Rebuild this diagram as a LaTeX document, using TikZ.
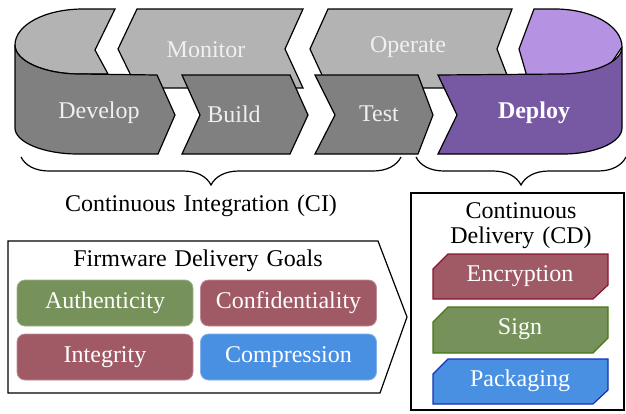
\documentclass[tikz,border=0pt]{standalone}
\usepackage{fontspec}
\setmainfont{Liberation Serif}
\usetikzlibrary{decorations.pathreplacing}
\definecolor{dgray}{RGB}{128,128,128}
\definecolor{lgray}{RGB}{179,179,179}
\definecolor{dpurple}{RGB}{118,88,163}
\definecolor{lpurple}{RGB}{181,146,226}
\definecolor{ggreen}{RGB}{118,146,90}
\definecolor{gred}{RGB}{160,90,102}
\definecolor{gblue}{RGB}{74,144,226}
\definecolor{bred}{RGB}{140,20,50}
\definecolor{bgreen}{RGB}{70,120,20}
\definecolor{bblue}{RGB}{20,50,180}
\definecolor{txtlight}{RGB}{240,240,240}
\newcommand{\myfont}{\fontsize{24}{27}\selectfont\spaceskip=8pt plus 1pt}
\tikzset{
  band/.style={draw=black, line width=1.2pt, line join=miter},
  lbl/.style={font=\myfont, text=txtlight, inner sep=0pt},
  blk/.style={font=\myfont, text=black, inner sep=0pt, align=center},
  goal/.style={font=\myfont, text=white, rounded corners=8pt, minimum width=176pt, minimum height=46pt, inner sep=0pt, line width=0.8pt},
  cditem/.style={line width=1.2pt, line join=miter},
  brc/.style={draw=black, line width=1.2pt, decorate, decoration={brace, amplitude=28pt}}
}
\begin{document}
\begin{tikzpicture}[x=1pt, y=-1pt]
\useasboundingbox (0,0) rectangle (626,413);
% top caps and back arrows
\fill[lgray, band] (15,45) .. controls (15,25) and (45,9) .. (83,9) -- (115,9) -- (95,50) -- (108,74) -- (80,74) .. controls (44,74) and (15,61) .. (15,45) -- cycle;
\fill[lgray, band] (137,9) -- (303,9) -- (285,49) -- (303,88) -- (137,88) -- (118,49) -- cycle;
\fill[lgray, band] (328,9) -- (512,9) -- (497,49) -- (512,88) -- (328,88) -- (310,49) -- cycle;
\fill[lpurple, band] (534,9) -- (555,9) .. controls (592,9) and (622,26) .. (622,47) -- (600,80) -- (528,80) -- (519,49) -- cycle;
\node[lbl] (monitor) at (206,50) {Monitor};
\node[lbl] (operate) at (408,47) {Operate};
% front arrows
\fill[dgray, band] (15,45) -- (15,128) .. controls (15,142) and (43,154) .. (78,154) -- (158,154) -- (175,115) -- (157,75) -- (80,74) .. controls (44,74) and (15,61) .. (15,45) -- cycle;
\fill[dgray, band] (182,75) -- (290,75) -- (308,115) -- (290,154) -- (182,154) -- (200,115) -- cycle;
\fill[dgray, band] (315,75) -- (418,75) -- (433,115) -- (418,154) -- (315,154) -- (335,115) -- cycle;
\fill[dpurple, band] (438,75) -- (560,74) .. controls (594,74) and (622,62) .. (622,47) -- (622,128) .. controls (622,142) and (596,154) .. (563,154) -- (438,154) -- (457,115) -- cycle;
\node[lbl] (develop) at (99,113) {Develop};
\node[lbl] (build) at (234,114) {Build};
\node[lbl] (test) at (379,114) {Test};
\node[lbl, text=white, font=\myfont\bfseries] (deploy) at (534,113) {Deploy};
% braces
\coordinate (ciR) at (401,157);
\coordinate (ciL) at (21,157);
\coordinate (cdR) at (626,157);
\coordinate (cdL) at (416,157);
\draw[brc] (ciR) -- (ciL);
\draw[brc] (cdR) -- (cdL);
\node[blk] (ci) at (201,206) {Continuous Integration (CI)};
% goals pentagon
\draw[line width=1.2pt] (8,241) -- (378,241) -- (407,317) -- (380,393) -- (8,393) -- cycle;
\node[blk] (goals) at (198,261) {Firmware Delivery Goals};
\node[goal, fill=ggreen, draw=ggreen!70!white] (auth) at (105,303) {Authenticity};
\node[goal, fill=gred, draw=gred!70!white] (conf) at (288.5,303) {Confidentiality};
\node[goal, fill=gred, draw=gred!70!white] (integ) at (105,357) {Integrity};
\node[goal, fill=gblue, draw=gblue!70!white] (comp) at (288.5,357) {Compression};
% CD box
\draw[line width=1.2pt] (411,193) rectangle (624,410);
\node[blk] (cd1) at (521,211) {Continuous};
\node[blk] (cd2) at (521,238) {Delivery (CD)};
\filldraw[cditem, fill=gred, draw=bred] (433,269) -- (448,254) -- (608,254) -- (608,285) -- (593,299) -- (433,299) -- cycle;
\filldraw[cditem, fill=ggreen, draw=bgreen] (433,322) -- (448,307) -- (608,307) -- (608,338) -- (593,353) -- (433,353) -- cycle;
\filldraw[cditem, fill=gblue, draw=bblue] (433,374) -- (448,359) -- (608,359) -- (608,390) -- (593,404) -- (433,404) -- cycle;
\node[lbl, text=white] (enc) at (520,276) {Encryption};
\node[lbl, text=white] (sign) at (520,329) {Sign};
\node[lbl, text=white] (pack) at (520,381) {Packaging};
\end{tikzpicture}
\end{document}
